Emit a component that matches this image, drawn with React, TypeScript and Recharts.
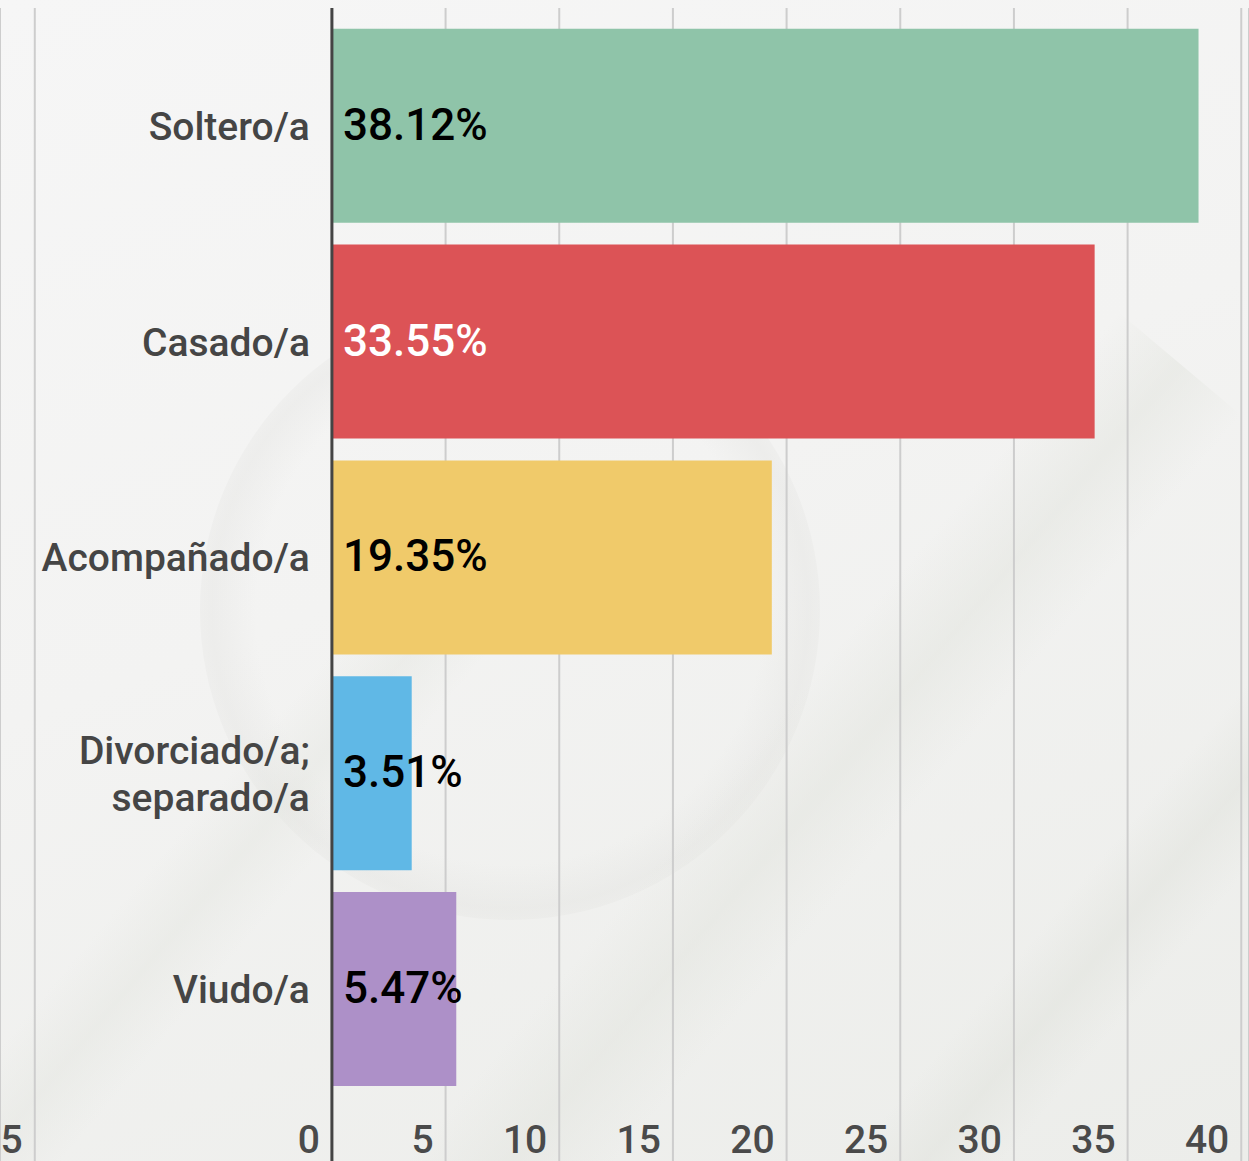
import { BarChart, Bar, XAxis, YAxis, CartesianGrid, ReferenceLine, LabelList, Cell } from "recharts";

const categories = ["Soltero/a", "Casado/a", "Acompañado/a", "Divorciado/a; separado/a", "Viudo/a"];
const values = [38.12, 33.55, 19.35, 3.51, 5.47];
const barColors = ["#8fc4a9", "#dc5356", "#f0ca6a", "#60b8e6", "#ad90c8"];
const valueLabelColors = ["#000000", "#ffffff", "#000000", "#000000", "#000000"];

// the leftmost tick sits off the regular 5-step grid in the source image
const xTicks = [-13.07, 0, 5, 10, 15, 20, 25, 30, 35, 40];
const xTickLabels = ["5", "0", "5", "10", "15", "20", "25", "30", "35", "40"];

const data = categories.map((name, i) => ({ name, value: values[i] }));

const FONT = "Roboto, 'Noto Sans', sans-serif";

function XTick(props: any) {
  const { x, y, index } = props;
  return (
    <text x={x - 12} y={y - 8} textAnchor="end" fill="#4a4a4a" fontSize={39} fontWeight={500} fontFamily={FONT}>
      {xTickLabels[index]}
    </text>
  );
}

function NameLabel(props: any) {
  const { x, y, height, index } = props;
  const name = categories[index];
  const lines = name.includes("; ") ? [name.split("; ")[0] + ";", name.split("; ")[1]] : [name];
  const cy = y + height / 2;
  const lh = 47;
  const first = cy + 14 - ((lines.length - 1) * lh) / 2;
  return (
    <text textAnchor="end" fill="#454545" fontSize={39} fontWeight={500} fontFamily={FONT}>
      {lines.map((l, i) => (
        <tspan key={i} x={x - 22} y={first + i * lh}>
          {l}
        </tspan>
      ))}
    </text>
  );
}

function ValueLabel(props: any) {
  const { x, y, height, index } = props;
  return (
    <text
      x={x + 11}
      y={y + height / 2 + 14}
      fill={valueLabelColors[index]}
      fontSize={44}
      fontWeight={500}
      fontFamily={FONT}
    >
      {values[index].toFixed(2) + "%"}
    </text>
  );
}

export default function App() {
  return (
    <div
      style={{
        position: "absolute",
        left: 0,
        top: 0,
        width: 1249,
        height: 1161,
        overflow: "hidden",
        background: "linear-gradient(160deg, #f6f6f6 0%, #f3f3f2 45%, #ecedea 100%)",
      }}
    >
      <div
        style={{
          position: "absolute",
          left: 200,
          top: 300,
          width: 620,
          height: 620,
          borderRadius: "50%",
          background: "radial-gradient(circle, rgba(225,225,222,0) 58%, rgba(218,218,215,0.25) 68%, rgba(225,225,222,0) 78%)",
        }}
      />
      <div
        style={{
          position: "absolute",
          left: 650,
          top: 200,
          width: 160,
          height: 1400,
          transform: "rotate(40deg)",
          background: "linear-gradient(90deg, rgba(230,231,226,0) 0%, rgba(226,228,222,0.5) 50%, rgba(230,231,226,0) 100%)",
        }}
      />
      <div
        style={{
          position: "absolute",
          left: 1000,
          top: 300,
          width: 120,
          height: 1400,
          transform: "rotate(40deg)",
          background: "linear-gradient(90deg, rgba(230,231,226,0) 0%, rgba(224,226,220,0.5) 50%, rgba(230,231,226,0) 100%)",
        }}
      />
      <div
        style={{
          position: "absolute",
          left: 100,
          top: 500,
          width: 120,
          height: 900,
          transform: "rotate(40deg)",
          background: "linear-gradient(90deg, rgba(230,231,226,0) 0%, rgba(226,228,222,0.4) 50%, rgba(230,231,226,0) 100%)",
        }}
      />
      <div style={{ position: "absolute", left: 0, top: 0 }}>
        <BarChart
          width={1249}
          height={1201}
          data={data}
          layout="vertical"
          margin={{ top: 8, right: 0, bottom: 0, left: 0 }}
          barCategoryGap="5%"
        >
          <CartesianGrid horizontal={false} stroke="#cdcdcd" strokeWidth={2} />
          <XAxis
            type="number"
            domain={[-14.6, 40.34]}
            ticks={xTicks}
            allowDataOverflow
            height={40}
            axisLine={false}
            tickLine={false}
            tickSize={0}
            tickMargin={0}
            tick={<XTick />}
            interval={0}
          />
          <YAxis type="category" dataKey="name" hide padding={{ top: 10, bottom: 64 }} />
          <Bar dataKey="value" isAnimationActive={false}>
            {data.map((d, i) => (
              <Cell key={d.name} fill={barColors[i]} />
            ))}
            <LabelList dataKey="name" content={<NameLabel />} />
            <LabelList dataKey="value" content={<ValueLabel />} />
          </Bar>
          <ReferenceLine x={0} stroke="#444444" strokeWidth={3} />
        </BarChart>
      </div>
    </div>
  );
}
